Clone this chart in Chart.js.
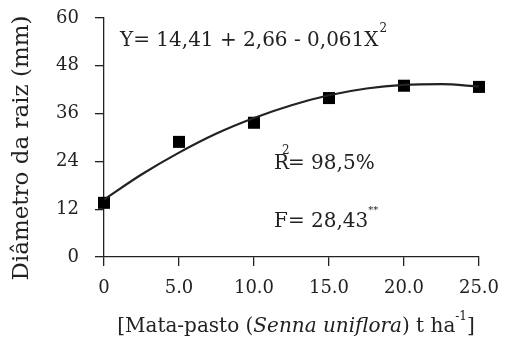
<!DOCTYPE html>
<html>
<head>
<meta charset="utf-8">
<script src="https://cdn.jsdelivr.net/npm/chart.js@4.4.0/dist/chart.umd.min.js"></script>
<style>
  html, body { margin: 0; padding: 0; background: #fff; }
  #wrap { width: 505px; height: 344px; }
</style>
</head>
<body>
<div id="wrap"><canvas id="raiz"></canvas></div>
<script>
// observed means
var doses = [0, 5, 10, 15, 20, 25];
var diametro = [13.6, 28.9, 33.7, 39.9, 43.0, 42.7];

// fitted curve
var curva_x = [0, 2.5, 5, 7.5, 10, 12.5, 15, 17.5, 20, 22.5, 25];
var curva_y = [14.4, 20.7, 26.2, 31.0, 34.9, 38.1, 40.6, 42.3, 43.2, 43.4, 42.8];

var y_ticks = [0, 12, 24, 36, 48, 60];

var serif = "'DejaVu Serif', 'Liberation Serif', serif";
var ink = '#222';

function pts(xs, ys) {
    var out = [];
    for (var i = 0; i < xs.length; i++) out.push({x: xs[i], y: ys[i]});
    return out;
}

// equation, R2, F and both axis titles
var textos = {
    id: 'textos',
    afterDraw: function(chart) {
        var ctx = chart.ctx;
        ctx.save();
        ctx.fillStyle = ink;
        ctx.textBaseline = 'middle';
        ctx.textAlign = 'left';
        ctx.font = '20px ' + serif;
        var s = 'Y= 14,41 + 2,66 - 0,061X';
        ctx.fillText(s, 120, 41);
        var w = ctx.measureText(s).width;
        ctx.font = '12px ' + serif;
        ctx.fillText('2', 120 + w + 1, 29);

        ctx.font = '20px ' + serif;
        ctx.fillText('R', 274, 164);
        ctx.fillText('= 98,5%', 288, 164);
        ctx.font = '12px ' + serif;
        ctx.fillText('2', 282, 151);

        ctx.font = '20px ' + serif;
        s = 'F= 28,43';
        ctx.fillText(s, 274, 222);
        w = ctx.measureText(s).width;
        ctx.font = '10px ' + serif;
        ctx.fillText('**', 274 + w, 210);

        // x title
        var parts = [
            ['[Mata-pasto (', '20px ' + serif, 0],
            ['Senna uniflora', 'italic 20px ' + serif, 0],
            [') t ha', '20px ' + serif, 0],
            ['-1', '12px ' + serif, -10],
            [']', '20px ' + serif, 0]
        ];
        var total = 0;
        parts.forEach(function(p) { ctx.font = p[1]; total += ctx.measureText(p[0]).width; });
        var x = 296 - total / 2;
        parts.forEach(function(p) {
            ctx.font = p[1];
            ctx.fillText(p[0], x, 327 + p[2]);
            x += ctx.measureText(p[0]).width;
        });

        // y title
        ctx.translate(22, 148);
        ctx.rotate(-Math.PI / 2);
        ctx.textAlign = 'center';
        ctx.font = '23px ' + serif;
        ctx.fillText('Diâmetro da raiz (mm)', 0, 0);
        ctx.restore();
    }
};

new Chart(document.getElementById('raiz'), {
    type: 'scatter',
    data: {
        datasets: [
            {
                type: 'line',
                data: pts(curva_x, curva_y),
                borderColor: ink,
                borderWidth: 2.2,
                pointRadius: 0,
                cubicInterpolationMode: 'monotone',
                fill: false
            },
            {
                data: pts(doses, diametro),
                pointStyle: 'rect',
                pointRadius: 8.5,
                backgroundColor: '#000',
                borderColor: '#000',
                borderWidth: 0,
                clip: false
            }
        ]
    },
    plugins: [textos],
    options: {
        responsive: true,
        maintainAspectRatio: false,
        animation: false,
        layout: { autoPadding: false, padding: { top: 18, right: 26, left: 0, bottom: 0 } },
        plugins: { legend: { display: false }, tooltip: { enabled: false } },
        scales: {
            x: {
                type: 'linear',
                min: 0, max: 25,
                afterFit: function(s) { s.height = 87; s.paddingLeft = 0; s.paddingRight = 0; },
                afterBuildTicks: function(s) {
                    s.ticks = doses.map(function(v) { return {value: v}; });
                },
                ticks: {
                    color: ink,
                    font: { family: serif, size: 18 },
                    padding: 12,
                    maxRotation: 0,
                    callback: function(v) { return v === 0 ? '0' : v.toFixed(1); }
                },
                grid: { drawOnChartArea: false, drawTicks: true, tickLength: 9, color: ink, lineWidth: 1.3 },
                border: { color: ink, width: 1.3 }
            },
            y: {
                min: 0, max: 60,
                afterFit: function(s) { s.width = 104; s.paddingTop = 0; s.paddingBottom = 0; },
                afterBuildTicks: function(s) {
                    s.ticks = y_ticks.map(function(v) { return {value: v}; });
                },
                ticks: {
                    color: ink,
                    font: { family: serif, size: 18 },
                    padding: 16
                },
                grid: { drawOnChartArea: false, drawTicks: true, tickLength: 9, color: ink, lineWidth: 1.3 },
                border: { color: ink, width: 1.3 }
            }
        }
    }
});
</script>
</body>
</html>
